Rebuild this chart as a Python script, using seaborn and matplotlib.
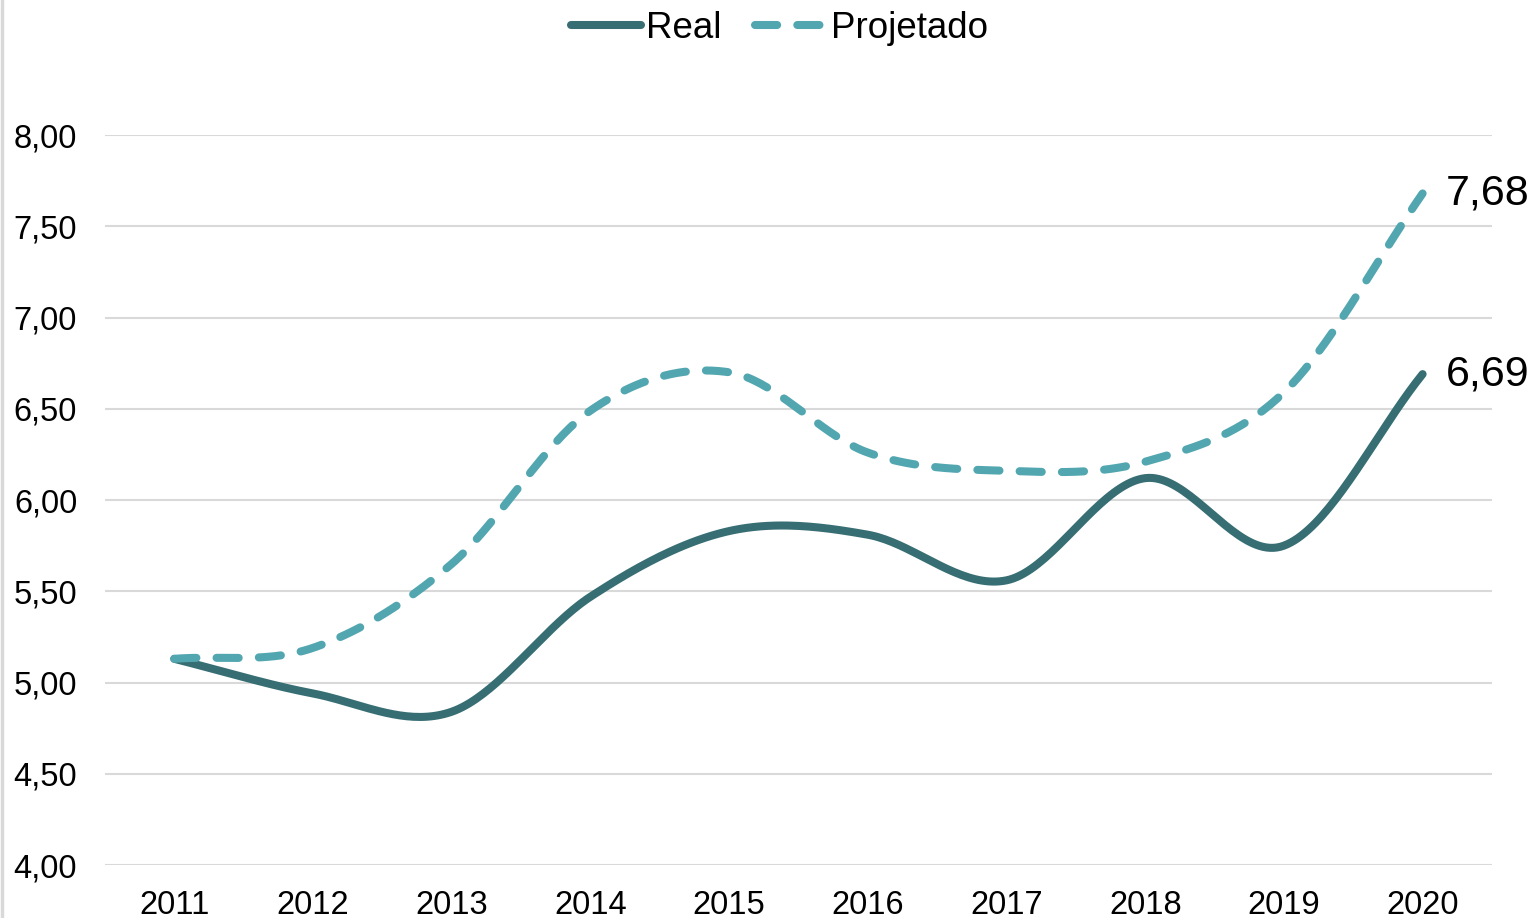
import numpy as np
import pandas as pd
import matplotlib
matplotlib.use("Agg")
import matplotlib.pyplot as plt
import seaborn as sns
from matplotlib.lines import Line2D

# values
years = ['2011', '2012', '2013', '2014', '2015', '2016', '2017', '2018', '2019', '2020']
real = [5.13, 4.94, 4.84, 5.47, 5.83, 5.81, 5.56, 6.12, 5.75, 6.69]
projetado = [5.13, 5.19, 5.65, 6.49, 6.70, 6.26, 6.16, 6.21, 6.59, 7.68]
yticks = [4.0, 4.5, 5.0, 5.5, 6.0, 6.5, 7.0, 7.5, 8.0]

COL_REAL = '#376e73'
COL_PROJ = '#52a6b0'
GRID = '#d9d9d9'


def smooth(values, n=40):
    """
    Catmull-Rom smoothing, like the smoothed lines in a spreadsheet chart.
    """
    p = np.asarray(values, dtype=float)
    ext = np.concatenate([[2 * p[0] - p[1]], p, [2 * p[-1] - p[-2]]])
    xs, ys = [], []
    for i in range(len(p) - 1):
        p0, p1, p2, p3 = ext[i], ext[i + 1], ext[i + 2], ext[i + 3]
        t = np.linspace(0, 1, n, endpoint=False)
        y = 0.5 * ((2 * p1) + (-p0 + p2) * t + (2 * p0 - 5 * p1 + 4 * p2 - p3) * t ** 2
                   + (-p0 + 3 * p1 - 3 * p2 + p3) * t ** 3)
        xs.extend(i + t)
        ys.extend(y)
    xs.append(len(p) - 1)
    ys.append(p[-1])
    return np.array(xs), np.array(ys)


sns.set_style('white')
plt.rcParams['font.family'] = ['Liberation Sans', 'DejaVu Sans']
plt.rcParams['text.color'] = 'black'
plt.rcParams['xtick.color'] = 'black'
plt.rcParams['ytick.color'] = 'black'

fig = plt.figure(figsize=(15.34, 9.18), dpi=100)
ax = fig.add_axes([0.0684, 0.0577, 0.9042, 0.7952])

x_r, y_r = smooth(real)
x_p, y_p = smooth(projetado)
df_r = pd.DataFrame({'x': x_r, 'y': y_r})
df_p = pd.DataFrame({'x': x_p, 'y': y_p})

sns.lineplot(data=df_r, x='x', y='y', ax=ax, color=COL_REAL, linewidth=5.8,
             solid_capstyle='round', sort=False)
sns.lineplot(data=df_p, x='x', y='y', ax=ax, color=COL_PROJ, linewidth=5.8,
             dashes=False, sort=False)
ax.lines[-1].set_dashes((2.75, 2.5))
ax.lines[-1].set_dash_capstyle('round')

ax.set_xlim(-0.5, len(years) - 0.5)
ax.set_ylim(4.0, 8.0)
ax.set_xticks(range(len(years)))
ax.set_xticklabels(years)
ax.set_yticks(yticks)
ax.set_yticklabels([f'{v:.2f}'.replace('.', ',') for v in yticks])
ax.tick_params(axis='y', labelsize=23.5, pad=20, length=0)
ax.tick_params(axis='x', labelsize=23.5, pad=18, length=0)
ax.set_xlabel('')
ax.set_ylabel('')
ax.yaxis.grid(True, color=GRID, linewidth=1.5)
ax.set_axisbelow(True)
for s in ax.spines.values():
    s.set_visible(False)

# end labels
ax.annotate(f'{real[-1]:.2f}'.replace('.', ','), (len(years) - 1, real[-1]),
            xytext=(17, 0), textcoords='offset points', fontsize=31, va='center')
ax.annotate(f'{projetado[-1]:.2f}'.replace('.', ','), (len(years) - 1, projetado[-1]),
            xytext=(17, 0), textcoords='offset points', fontsize=31, va='center')

handles = [Line2D([], [], color=COL_REAL, linewidth=5.8, solid_capstyle='round'),
           Line2D([], [], color=COL_PROJ, linewidth=5.8, dashes=(2.75, 2.5),
                  dash_capstyle='round')]
fig.legend(handles, ['Real', 'Projetado'], loc='center', bbox_to_anchor=(0.508, 0.969),
           ncol=2, frameon=False, fontsize=26.5, handlelength=1.9, handletextpad=0.15,
           columnspacing=0.9)

# thin grey frame edge on the left
fig.add_artist(Line2D([0.001, 0.001], [0, 1], transform=fig.transFigure,
                      color=GRID, linewidth=2.5))

fig.savefig('out.png', dpi=100)
